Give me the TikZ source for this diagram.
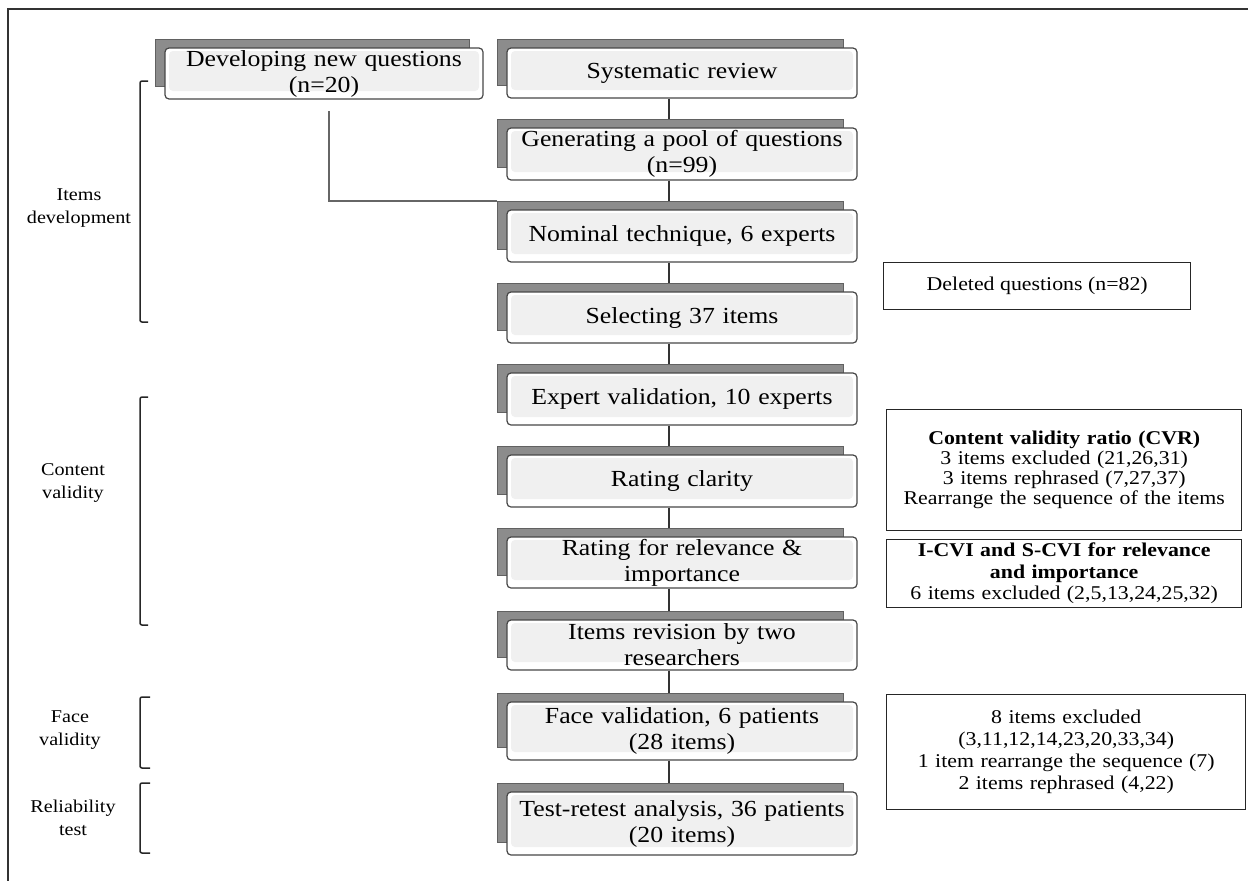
\documentclass[tikz,border=0pt]{standalone}
\usepackage{fontspec}
\setmainfont[FakeStretch=1.12]{Liberation Serif}
\newcommand\mainsz{\fontsize{23}{26}\selectfont}
\newcommand\labsz{\fontsize{18}{23}\selectfont}
\newcommand\sidesz{\fontsize{19.5}{20}\selectfont}
\begin{document}
\begin{tikzpicture}[x=1pt,y=-1pt,
  back/.style={draw=black!62, fill=black!45, line width=1pt, inner sep=0pt, anchor=north west},
  front/.style={draw=black!72, fill=white, line width=1.2pt, rounded corners=4pt, inner sep=0pt,
     align=center, font=\mainsz,
     path picture={\fill[black!6] ([xshift=4pt,yshift=-3pt]path picture bounding box.north west) rectangle ([xshift=-4pt,yshift=8pt]path picture bounding box.south east);}},
  side/.style={draw=black!85, fill=white, line width=1.4pt, inner sep=0pt, anchor=north west, align=center},
  lab/.style={align=center, font=\labsz, inner sep=0pt},
  conn/.style={draw=black!80, line width=1.8pt},
  thinconn/.style={draw=black!60, line width=1.1pt},
  brk/.style={draw=black!85, line width=1.5pt, rounded corners=2pt}]
\useasboundingbox (0,0) rectangle (1248,881);
\newcommand\flowbox[6]{%
  \node[back, minimum width={(#3-4)*1pt}, minimum height={(#5-#4-4)*1pt}] (b-#1) at (#2-10,#4-9) {};
  \node[front, minimum width={#3*1pt}, minimum height={(#5-#4)*1pt}, text width={(#3-10)*1pt}] (#1) at ({#2+#3/2},{(#4+#5)/2}) {#6};
}
% outer frame
\draw[line width=2.5pt, black!80] (8,881) -- (8,9) -- (1248,9);
% main column
\flowbox{dev}{165}{318}{48}{99}{Developing new questions\\(n=20)}
\flowbox{sys}{507}{350}{48}{98}{Systematic review}
\flowbox{gen}{507}{350}{128}{180}{Generating a pool of questions\\(n=99)}
\flowbox{nom}{507}{350}{210}{262}{Nominal technique, 6 experts}
\flowbox{sel}{507}{350}{292}{343}{Selecting 37 items}
\flowbox{exp}{507}{350}{373}{425}{Expert validation, 10 experts}
\flowbox{cla}{507}{350}{455}{507}{Rating clarity}
\flowbox{rel}{507}{350}{537}{588}{Rating for relevance \&\\importance}
\flowbox{rev}{507}{350}{620}{670}{Items revision by two\\researchers}
\flowbox{fac}{507}{350}{702}{760}{Face validation, 6 patients\\(28 items)}
\flowbox{tes}{507}{350}{792}{855}{Test-retest analysis, 36 patients\\(20 items)}
% connectors
\coordinate (cx) at (669,0);
\foreach \a/\b in {sys/gen,gen/nom,nom/sel,sel/exp,exp/cla,cla/rel,rel/rev,rev/fac,fac/tes}
  \draw[conn] (\a.south -| cx) -- (b-\b.north -| cx);
\coordinate (dvs) at (329,111);
\draw[thinconn] (dvs) |- (b-nom.north west);
% right boxes
\node[side, minimum width=307pt, minimum height=47pt, font=\sidesz] (del) at (883,262) {Deleted questions (n=82)};
\node[side, minimum width=355pt, minimum height=121pt, font=\sidesz, text width=345pt] (cvr) at (886,409)
  {\textbf{Content validity ratio (CVR)}\\3 items excluded (21,26,31)\\3 items rephrased (7,27,37)\\Rearrange the sequence of the items};
\node[side, minimum width=355pt, minimum height=68pt, font={\fontsize{19.5}{21.5}\selectfont}, text width=345pt] (icvi) at (886,539)
  {\textbf{I-CVI and S-CVI for relevance}\\\textbf{and importance}\\6 items excluded (2,5,13,24,25,32)};
\node[side, minimum width=359pt, minimum height=115pt, font={\fontsize{19.5}{22}\selectfont}, text width=349pt] (fex) at (886,694)
  {8 items excluded\\(3,11,12,14,23,20,33,34)\\1 item rearrange the sequence (7)\\2 items rephrased (4,22)};
% left labels and brackets
\node[lab] (lid) at (79,208) {Items\\development};
\node[lab] (lcv) at (73,483) {Content\\validity};
\node[lab] (lfv) at (70,730) {Face\\validity};
\node[lab] (lrt) at (73,818) {Reliability\\test};
\draw[brk] (148,81) -- (140,81) -- (140,322) -- (148,322);
\draw[brk] (148,397) -- (140,397) -- (140,625) -- (148,625);
\draw[brk] (150,697) -- (140,697) -- (140,768) -- (150,768);
\draw[brk] (150,783) -- (140,783) -- (140,853) -- (150,853);
\end{tikzpicture}
\end{document}
